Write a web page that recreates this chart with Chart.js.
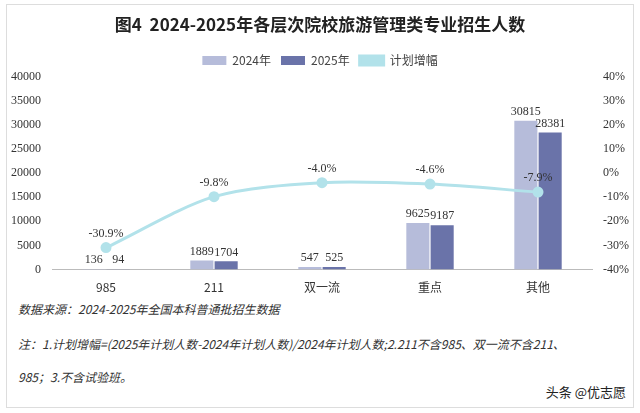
<!DOCTYPE html>
<html><head><meta charset="utf-8">
<script src="https://cdn.jsdelivr.net/npm/chart.js@4"></script>
<style>
body{margin:0;background:#fff;width:640px;height:413px;overflow:hidden;font-family:"Noto Sans CJK SC",serif;}
#box{position:absolute;left:6px;top:4px;width:626px;height:402px;border:1px solid #ddd;}
#wrap{position:absolute;left:0;top:0;width:640px;height:298px;}
.note{position:absolute;left:18px;font-size:12px;font-style:italic;color:#333;font-family:"Noto Sans CJK SC";}
#brand{position:absolute;right:14px;top:382px;font-size:13px;color:#222;}
</style></head><body>
<div id="box"></div>
<div id="wrap"><canvas id="c"></canvas></div>
<div class="note" style="top:300px">数据来源：2024-2025年全国本科普通批招生数据</div>
<div class="note" style="top:335px">注：1.计划增幅=(2025年计划人数-2024年计划人数)/2024年计划人数;2.211不含985、双一流不含211、</div>
<div class="note" style="top:368px">985；3.不含试验班。</div>
<div id="brand">头条 @优志愿</div>
<script>
const categories=["985","211","双一流","重点","其他"];
const v2024=[136,1889,547,9625,30815];
const v2025=[94,1704,525,9187,28381];
const growth=[-30.9,-9.8,-4.0,-4.6,-7.9];
const labelsPlugin={id:'lbl',afterDatasetsDraw(ch){const c=ch.ctx;c.save();c.font='12px "Liberation Serif"';c.fillStyle='#333';c.textAlign='center';c.textBaseline='bottom';
[0,1].forEach(i=>{ch.getDatasetMeta(i).data.forEach((b,j)=>{c.fillText(ch.data.datasets[i].data[j],b.x,b.y-3);});});
ch.getDatasetMeta(2).data.forEach((p,j)=>{c.fillText(growth[j].toFixed(1)+'%',p.x,p.y-8);});c.restore();}};
new Chart(document.getElementById('c'),{type:'bar',data:{labels:categories,datasets:[
{label:'2024年',data:v2024,backgroundColor:'#b6bcda',yAxisID:'y',order:2,barPercentage:0.95,categoryPercentage:0.45},
{label:'2025年',data:v2025,backgroundColor:'#6a73a9',yAxisID:'y',order:2,barPercentage:0.95,categoryPercentage:0.45},
{label:'计划增幅',type:'line',data:growth,borderColor:'#b2e2ea',backgroundColor:'#b2e2ea',borderWidth:3,pointRadius:4,tension:0.3,yAxisID:'y1',order:1}]},
options:{responsive:true,maintainAspectRatio:false,animation:false,layout:{padding:{left:8,right:8,top:10}},
plugins:{title:{display:true,text:'图4  2024-2025年各层次院校旅游管理类专业招生人数',font:{size:17,weight:'bold',family:'"Noto Sans CJK SC"'},color:'#222',padding:{top:4,bottom:10}},
legend:{labels:{sort:(a,b)=>a.datasetIndex-b.datasetIndex,boxWidth:24,boxHeight:9,font:{size:12,family:'"Noto Sans CJK SC"'},color:'#444'}},tooltip:{enabled:false}},
scales:{x:{grid:{display:false},border:{color:'#bbb'},ticks:{color:'#333',font:{size:12,family:'"Noto Sans CJK SC"'}}},
y:{min:0,max:40000,ticks:{stepSize:5000,callback:v=>String(v),color:'#333',font:{size:12,family:'"Liberation Serif"'}},grid:{display:false},border:{display:false}},
y1:{position:'right',min:-40,max:40,ticks:{stepSize:10,callback:v=>v+'%',color:'#333',font:{size:12,family:'"Liberation Serif"'}},grid:{display:false},border:{display:false}}}},
plugins:[labelsPlugin]});
</script></body></html>
